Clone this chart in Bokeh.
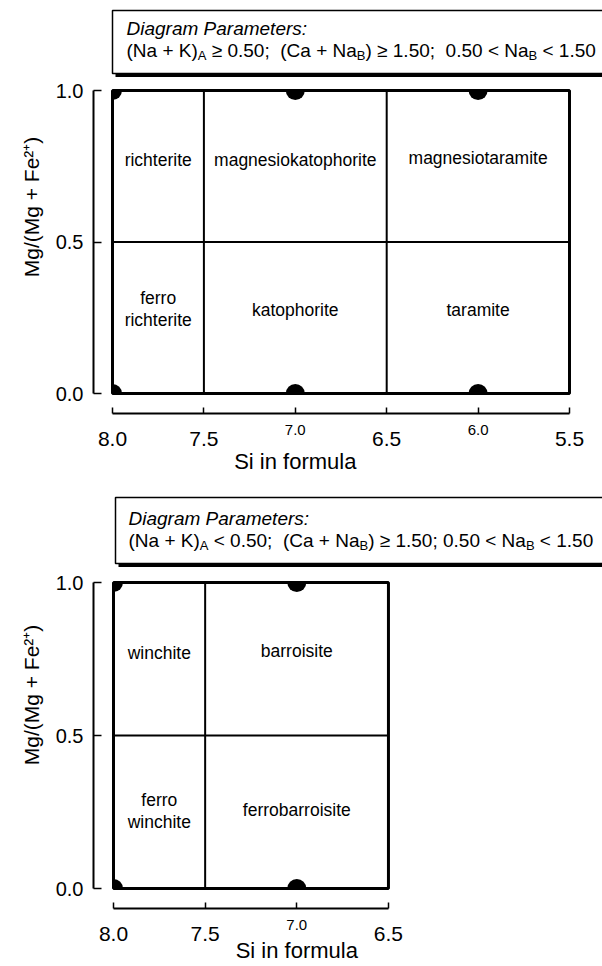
import re
import numpy as np
from bokeh.plotting import figure
from bokeh.models import (Range1d, LinearAxis, FixedTicker, PrintfTickFormatter,
                          ColumnDataSource, Title)
from bokeh.layouts import column
from bokeh.embed import file_html
from bokeh.resources import INLINE
from bokeh.core.properties import value

# ---------------- data ----------------
# Upper diagram: (Na+K)A >= 0.50
top_si_edges = [8.0, 7.5, 6.5, 5.5]
top_mg_edges = [0.0, 0.5, 1.0]
top_names = ["richterite", "magnesiokatophorite", "magnesiotaramite",
             "ferro\nrichterite", "katophorite", "taramite"]
top_name_si = [7.75, 7.0, 6.0, 7.75, 7.0, 6.0]
top_name_mg = [0.77, 0.772, 0.778, 0.28, 0.275, 0.275]
top_dot_si = [8.0, 7.0, 6.0, 8.0, 7.0, 6.0]
top_dot_mg = [1.0, 1.0, 1.0, 0.0, 0.0, 0.0]
top_big_ticks = [8.0, 7.5, 6.5, 5.5]
top_small_ticks = [7.0, 6.0]
top_header = [("(Na + K)", False), ("A", True), (" ≥ 0.50;  (Ca + Na", False), ("B", True),
              (") ≥ 1.50;  0.50 < Na", False), ("B", True), (" < 1.50", False)]

# Lower diagram: (Na+K)A < 0.50
bot_si_edges = [8.0, 7.5, 6.5]
bot_mg_edges = [0.0, 0.5, 1.0]
bot_names = ["winchite", "barroisite", "ferro\nwinchite", "ferrobarroisite"]
bot_name_si = [7.75, 7.0, 7.75, 7.0]
bot_name_mg = [0.769, 0.775, 0.252, 0.258]
bot_dot_si = [8.0, 7.0, 8.0, 7.0]
bot_dot_mg = [1.0, 1.0, 0.0, 0.0]
bot_big_ticks = [8.0, 7.5, 6.5]
bot_small_ticks = [7.0]
bot_header = [("(Na + K)", False), ("A", True), (" < 0.50;  (Ca + Na", False), ("B", True),
              (") ≥ 1.50; 0.50 < Na", False), ("B", True), (" < 1.50", False)]

mg_ticks = [0.0, 0.5, 1.0]
header_title = "Diagram Parameters:"
x_title = "Si in formula"
y_title = "Mg/(Mg + Fe²⁺)"
x_title_center = 7.0

FONT = "Liberation Sans"
HSIZE = 19.0
XL_SIZE = 22.0

# Arial / Liberation Sans advance widths (1/1000 em) for text layout
W = {' ': 278, '(': 333, ')': 333, '+': 584, '.': 278, ';': 278, ':': 278, '<': 584,
     '≥': 549, 'A': 667, 'B': 667, 'C': 722, 'K': 667, 'N': 722, 'S': 667, 'a': 556,
     'i': 222, 'n': 556, 'f': 278, 'o': 556, 'r': 333, 'm': 833, 'u': 556, 'l': 222}


def tw(s, size):
    return sum(W.get(c, 556) for c in s) * size / 1000.0


def place(parts, x0, size, sub_size):
    out = []
    pos = x0
    for txt, sub in parts:
        sz = sub_size if sub else size
        for m in re.finditer(r"\S+(?: \S+)*", txt):
            out.append((pos + tw(txt[:m.start()], sz), m.group(), sub))
        pos += tw(txt, sz)
    return out


def build(spec, si_edges, mg_edges, names, nsi, nmg, dsi, dmg, big, small, header_parts):
    X0, PXU, Y1, Y0 = spec["x0"], spec["pxu"], spec["y1"], spec["y0"]
    FL = 93  # frame left (px)

    def dx(px):
        return si_edges[0] - (px - X0) / PXU

    def dy(py):
        return (Y0 - py) / (Y0 - Y1)

    height = spec["frame_bottom"] - spec["top"] + spec["panel"]
    p = figure(width=602, height=height,
               x_range=Range1d(dx(FL), dx(602)),
               y_range=Range1d(dy(spec["frame_bottom"]), dy(spec["top"])),
               output_backend="svg", toolbar_location=None,
               x_axis_type=None, y_axis_type=None,
               min_border_left=FL, min_border_right=0, min_border_top=0,
               min_border_bottom=spec["panel"], outline_line_color=None)

    # header box with shadow
    hl, ht, hb = spec["hl"], spec["ht"], spec["hb"]
    p.quad(left=[dx(hl + 3)], right=[dx(660)], top=[dy(hb)], bottom=[dy(hb + 3.5)],
           fill_color="black", line_color=None)
    p.quad(left=[dx(hl)], right=[dx(640)], top=[dy(ht)], bottom=[dy(hb)],
           fill_color="white", line_color="black", line_width=1.5)
    p.text(x=[dx(spec["tl"])], y=[dy(spec["b1"])], text=[header_title],
           text_font=value(FONT), text_font_size=f"{HSIZE}px", text_font_style="italic",
           text_baseline="alphabetic", text_align="left", text_color="black")
    pieces = place(header_parts, spec["tl"], HSIZE, 13)
    for is_sub in (False, True):
        sel = [pc for pc in pieces if pc[2] == is_sub]
        base = spec["b2"] + (5 if is_sub else 0)
        p.text(x=[dx(pc[0]) for pc in sel], y=[dy(base)] * len(sel), text=[pc[1] for pc in sel],
               text_font=value(FONT), text_font_size="13px" if is_sub else f"{HSIZE}px",
               text_baseline="alphabetic", text_align="left", text_color="black")

    # field boundaries
    p.quad(left=[si_edges[0]], right=[si_edges[-1]], bottom=[mg_edges[0]], top=[mg_edges[-1]],
           fill_color=None, line_color="black", line_width=3)
    vx = si_edges[1:-1]
    hy = mg_edges[1:-1]
    p.segment(x0=vx, y0=[mg_edges[0]] * len(vx), x1=vx, y1=[mg_edges[-1]] * len(vx),
              line_color="black", line_width=2)
    p.segment(x0=[si_edges[0]] * len(hy), y0=hy, x1=[si_edges[-1]] * len(hy), y1=hy,
              line_color="black", line_width=2)

    # end-member dots (clipped to inside of the box)
    a0s, a1s = [], []
    for s, m in zip(dsi, dmg):
        if m >= mg_edges[-1]:
            a0, a1 = np.pi, 2 * np.pi
            if s >= si_edges[0]:
                a0 = 1.5 * np.pi
        else:
            a0, a1 = 0.0, np.pi
            if s >= si_edges[0]:
                a1 = 0.5 * np.pi
        a0s.append(a0)
        a1s.append(a1)
    p.wedge(x=dsi, y=dmg, radius=9.5, radius_units="screen", start_angle=a0s, end_angle=a1s,
            fill_color="black", line_color=None)

    # field names
    src = ColumnDataSource(dict(x=nsi, y=nmg, t=names))
    p.text(x="x", y="y", text="t", source=src, text_font=value(FONT), text_font_size="17.5px",
           text_align="center", text_baseline="middle", text_line_height=1.1, text_color="black")

    fmt = PrintfTickFormatter(format="%.1f")
    yax = LinearAxis(ticker=FixedTicker(ticks=mg_ticks), formatter=fmt,
                     bounds=(mg_edges[0], mg_edges[-1]),
                     axis_label=y_title, axis_label_text_font=FONT,
                     axis_label_text_font_size="21px", axis_label_text_font_style="normal",
                     axis_label_standoff=10, axis_label_text_color="black",
                     major_label_text_font=FONT, major_label_text_font_size="20px",
                     major_label_text_color="black", major_label_standoff=10,
                     major_tick_in=8, major_tick_out=0, minor_tick_line_color=None,
                     axis_line_width=2, major_tick_line_width=1.5,
                     axis_line_color="black", major_tick_line_color="black")
    p.add_layout(yax, "left")

    lo, hi = min(si_edges), max(si_edges)
    axa = LinearAxis(ticker=FixedTicker(ticks=small, minor_ticks=big), formatter=fmt,
                     bounds=(lo, hi), major_tick_in=6, major_tick_out=0,
                     minor_tick_in=6, minor_tick_out=0,
                     major_label_text_font=FONT, major_label_text_font_size="15px",
                     major_label_text_color="black", major_label_standoff=spec["a_so"],
                     axis_line_width=2, major_tick_line_width=1.5, minor_tick_line_width=1.5,
                     axis_line_color="black", major_tick_line_color="black",
                     minor_tick_line_color="black")
    p.add_layout(axa, "below")

    axb = LinearAxis(ticker=FixedTicker(ticks=big), formatter=fmt, bounds=(lo, hi),
                     axis_line_color=None, major_tick_line_color=None, minor_tick_line_color=None,
                     major_label_text_font=FONT, major_label_text_font_size="21px",
                     major_label_text_color="black", major_label_standoff=spec["b_so"])
    p.add_layout(axb, "below")

    # x-axis title, centred under Si = 7.0
    cx = X0 + (si_edges[0] - x_title_center) * PXU
    xt = Title(text=x_title, align="left", vertical_align="top",
               offset=cx - tw(x_title, XL_SIZE) / 2 - FL,
               text_font=FONT, text_font_size=f"{XL_SIZE}px", text_font_style="normal",
               text_color="black", standoff=spec["t_so"])
    p.add_layout(xt, "below")
    return p


spec_top = dict(top=0, frame_bottom=413, panel=68, x0=112, pxu=182.8, y1=90, y0=393,
                hl=112, ht=10, hb=73, tl=126, b1=28, b2=50,
                a_so=11, b_so=-12, t_so=0)
spec_bot = dict(top=413 + 68, frame_bottom=908, panel=58, x0=113, pxu=183.3, y1=582, y0=888,
                hl=115, ht=497, hb=563, tl=128, b1=517.5, b2=539.5,
                a_so=11, b_so=-12, t_so=-12)

p1 = build(spec_top, top_si_edges, top_mg_edges, top_names, top_name_si, top_name_mg,
           top_dot_si, top_dot_mg, top_big_ticks, top_small_ticks, top_header)
p2 = build(spec_bot, bot_si_edges, bot_mg_edges, bot_names, bot_name_si, bot_name_mg,
           bot_dot_si, bot_dot_mg, bot_big_ticks, bot_small_ticks, bot_header)

layout = column(p1, p2, spacing=0)
open("out.html", "w").write(file_html(layout, INLINE))
